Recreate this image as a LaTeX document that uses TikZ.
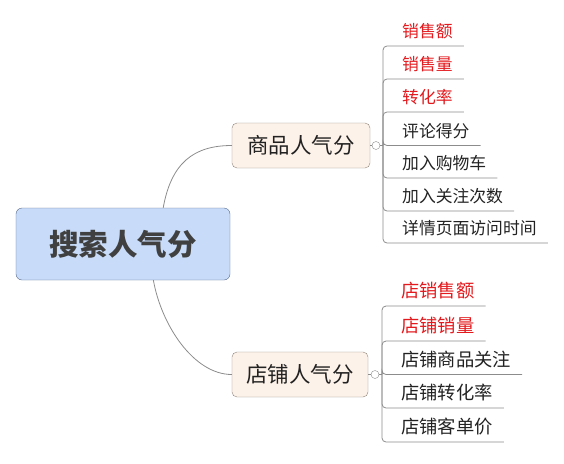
\documentclass[tikz,border=0pt]{standalone}
\usepackage{fontspec}
\setmainfont{Noto Sans CJK SC}
\usepackage{xcolor}
\definecolor{rootfill}{HTML}{C8DCF9}
\definecolor{rootline}{HTML}{56688A}
\definecolor{subfill}{HTML}{FDF2E9}
\definecolor{subline}{HTML}{8E847A}
\definecolor{linkgray}{HTML}{8C8C8C}
\definecolor{hotred}{HTML}{E3191D}
\definecolor{ink}{HTML}{222222}

\begin{document}
\begin{tikzpicture}[x=1pt, y=-1pt,
    root/.style={draw=rootline, fill=rootfill, rounded corners=6pt, minimum width=214pt,
      minimum height=72pt, text=black!75, font=\bfseries\fontsize{29.5}{31}\selectfont},
    sub/.style={draw=subline, fill=subfill, rounded corners=5pt, minimum width=138pt,
      minimum height=45pt, text=ink, font=\fontsize{21.5}{23}\selectfont},
    hub/.style={circle, draw=linkgray, fill=white, inner sep=0pt, minimum size=8pt},
    leaf/.style={anchor=south west, inner xsep=11pt, inner ysep=0pt, text height=14pt,
      text depth=8pt, text=ink, font=\fontsize{16.8}{18}\selectfont},
    hot/.style={text=hotred},
    link/.style={draw=linkgray, line width=0.8pt}]
    \useasboundingbox (0,0) rectangle (564,463);
    \node[root] (R) at (123,244) {搜索人气分};
    \node[sub] (G) at (301,145.5) {商品人气分};
    \node[sub, minimum width=136pt] (S) at (300,374.5) {店铺人气分};
    \draw[link] (R.42) .. controls +(8,-45) and +(-38,0) .. (G.west);
    \draw[link] (R.-50) .. controls +(8,45) and +(-38,0) .. (S.west);
    % goods branch
    \node[hub] (GH) at (376,145.5) {}; \coordinate (GB) at (383,145.5);
    \draw[link] (G.east) -- (GH.west); \draw[link] (GH.east) -- (GB);
    \node[leaf, hot] (G1) at (391,46) {销售额};
    \node[leaf, hot] (G2) at (391,79) {销售量};
    \node[leaf, hot] (G3) at (391,112) {转化率};
    \node[leaf] (G4) at (391,145.5) {评论得分};
    \node[leaf] (G5) at (391,178) {加入购物车};
    \node[leaf] (G6) at (391,211) {加入关注次数};
    \node[leaf] (G7) at (391,243) {详情页面访问时间};
    \foreach \i in {1,...,7}
      \draw[link, rounded corners=4pt] (GB) |- (G\i.south east);
    % shop branch
    \node[hub] (SH) at (375,374.5) {}; \coordinate (SB) at (382,374.5);
    \draw[link] (S.east) -- (SH.west); \draw[link] (SH.east) -- (SB);
    \tikzset{leaf/.append style={font=\fontsize{18.3}{20}\selectfont}}
    \node[leaf, hot] (S1) at (390,306) {店销售额};
    \node[leaf, hot] (S2) at (390,341) {店铺销量};
    \node[leaf] (S3) at (390,374.5) {店铺商品关注};
    \node[leaf] (S4) at (390,408) {店铺转化率};
    \node[leaf] (S5) at (390,442) {店铺客单价};
    \foreach \i in {1,...,5}
      \draw[link, rounded corners=4pt] (SB) |- (S\i.south east);
  \end{tikzpicture}
\end{document}
